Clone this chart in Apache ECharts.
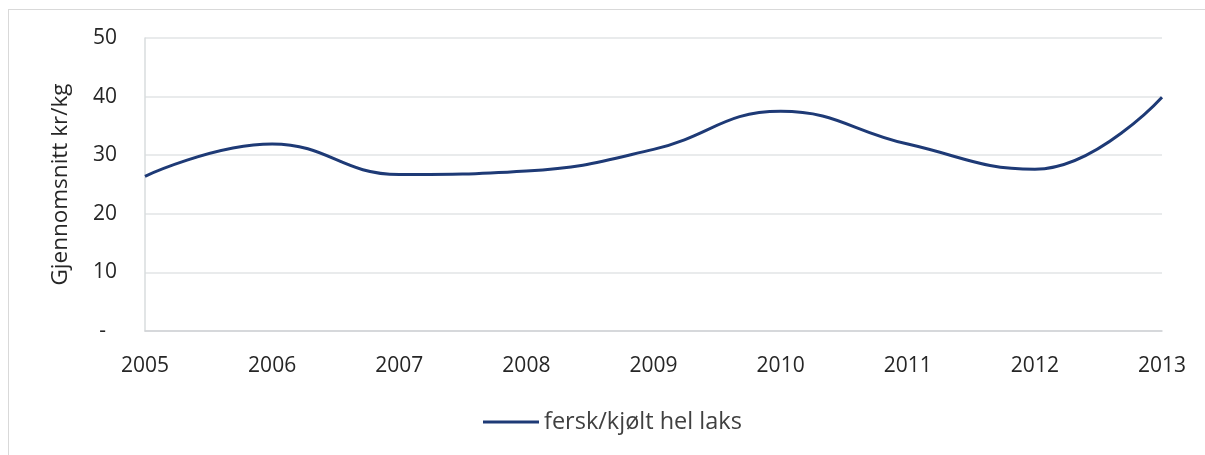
<!DOCTYPE html>
<html>
<head>
<meta charset="utf-8">
<script src="https://cdn.jsdelivr.net/npm/echarts@6/dist/echarts.min.js"></script>
<style>
  html, body { margin: 0; padding: 0; background: #fff; }
  #frame { position: absolute; left: 8px; top: 9px; width: 1197px; height: 446px; border-top: 1px solid #d9d9d9; border-left: 1px solid #d9d9d9; }
  #chart { position: absolute; left: 0; top: 0; width: 1205px; height: 455px; }
</style>
</head>
<body>
<div id="frame"></div>
<div id="chart"></div>
<script>
// år og gjennomsnittspris (kr/kg)
const years = ['2005', '2006', '2007', '2008', '2009', '2010', '2011', '2012', '2013']
const laks = [26.4, 31.9, 26.7, 27.3, 31.0, 37.5, 31.9, 27.6, 39.9]

const chart = echarts.init(document.getElementById('chart'))
chart.setOption({
  animation: false,
  textStyle: { fontFamily: 'Open Sans' },
  grid: { left: 145, right: 43, top: 38, bottom: 124 },
  legend: {
    bottom: 16,
    left: 478,
    icon: 'rect',
    itemWidth: 56,
    itemHeight: 3,
    itemGap: 11,
    textStyle: { fontSize: 23.5, color: '#404040', fontFamily: 'Open Sans' },
    data: ['fersk/kjølt hel laks'],
  },
  xAxis: {
    type: 'category',
    data: years,
    boundaryGap: false,
    axisLine: { lineStyle: { color: '#cfd2d5', width: 1.5 } },
    axisTick: { show: false },
    axisLabel: { fontSize: 21, color: '#262626', margin: 25 },
  },
  yAxis: {
    type: 'value',
    min: 0,
    max: 50,
    interval: 10,
    name: 'Gjennomsnitt kr/kg',
    nameLocation: 'middle',
    nameGap: 73,
    nameTextStyle: { fontSize: 22.5, color: '#262626' },
    axisLine: { show: true, lineStyle: { color: '#d9dcde', width: 1.5 } },
    axisTick: { show: false },
    axisLabel: {
      fontSize: 21,
      color: '#262626',
      margin: 28,
      formatter: (v) => (v === 0 ? '-  ' : v),
    },
    splitLine: { lineStyle: { color: '#e2e5e6', width: 1.5 } },
  },
  series: [
    {
      name: 'fersk/kjølt hel laks',
      type: 'line',
      data: laks,
      smooth: 0.45,
      symbol: 'none',
      lineStyle: { color: '#1e3a76', width: 3 },
      itemStyle: { color: '#1e3a76' },
    },
  ],
})
</script>
</body>
</html>
